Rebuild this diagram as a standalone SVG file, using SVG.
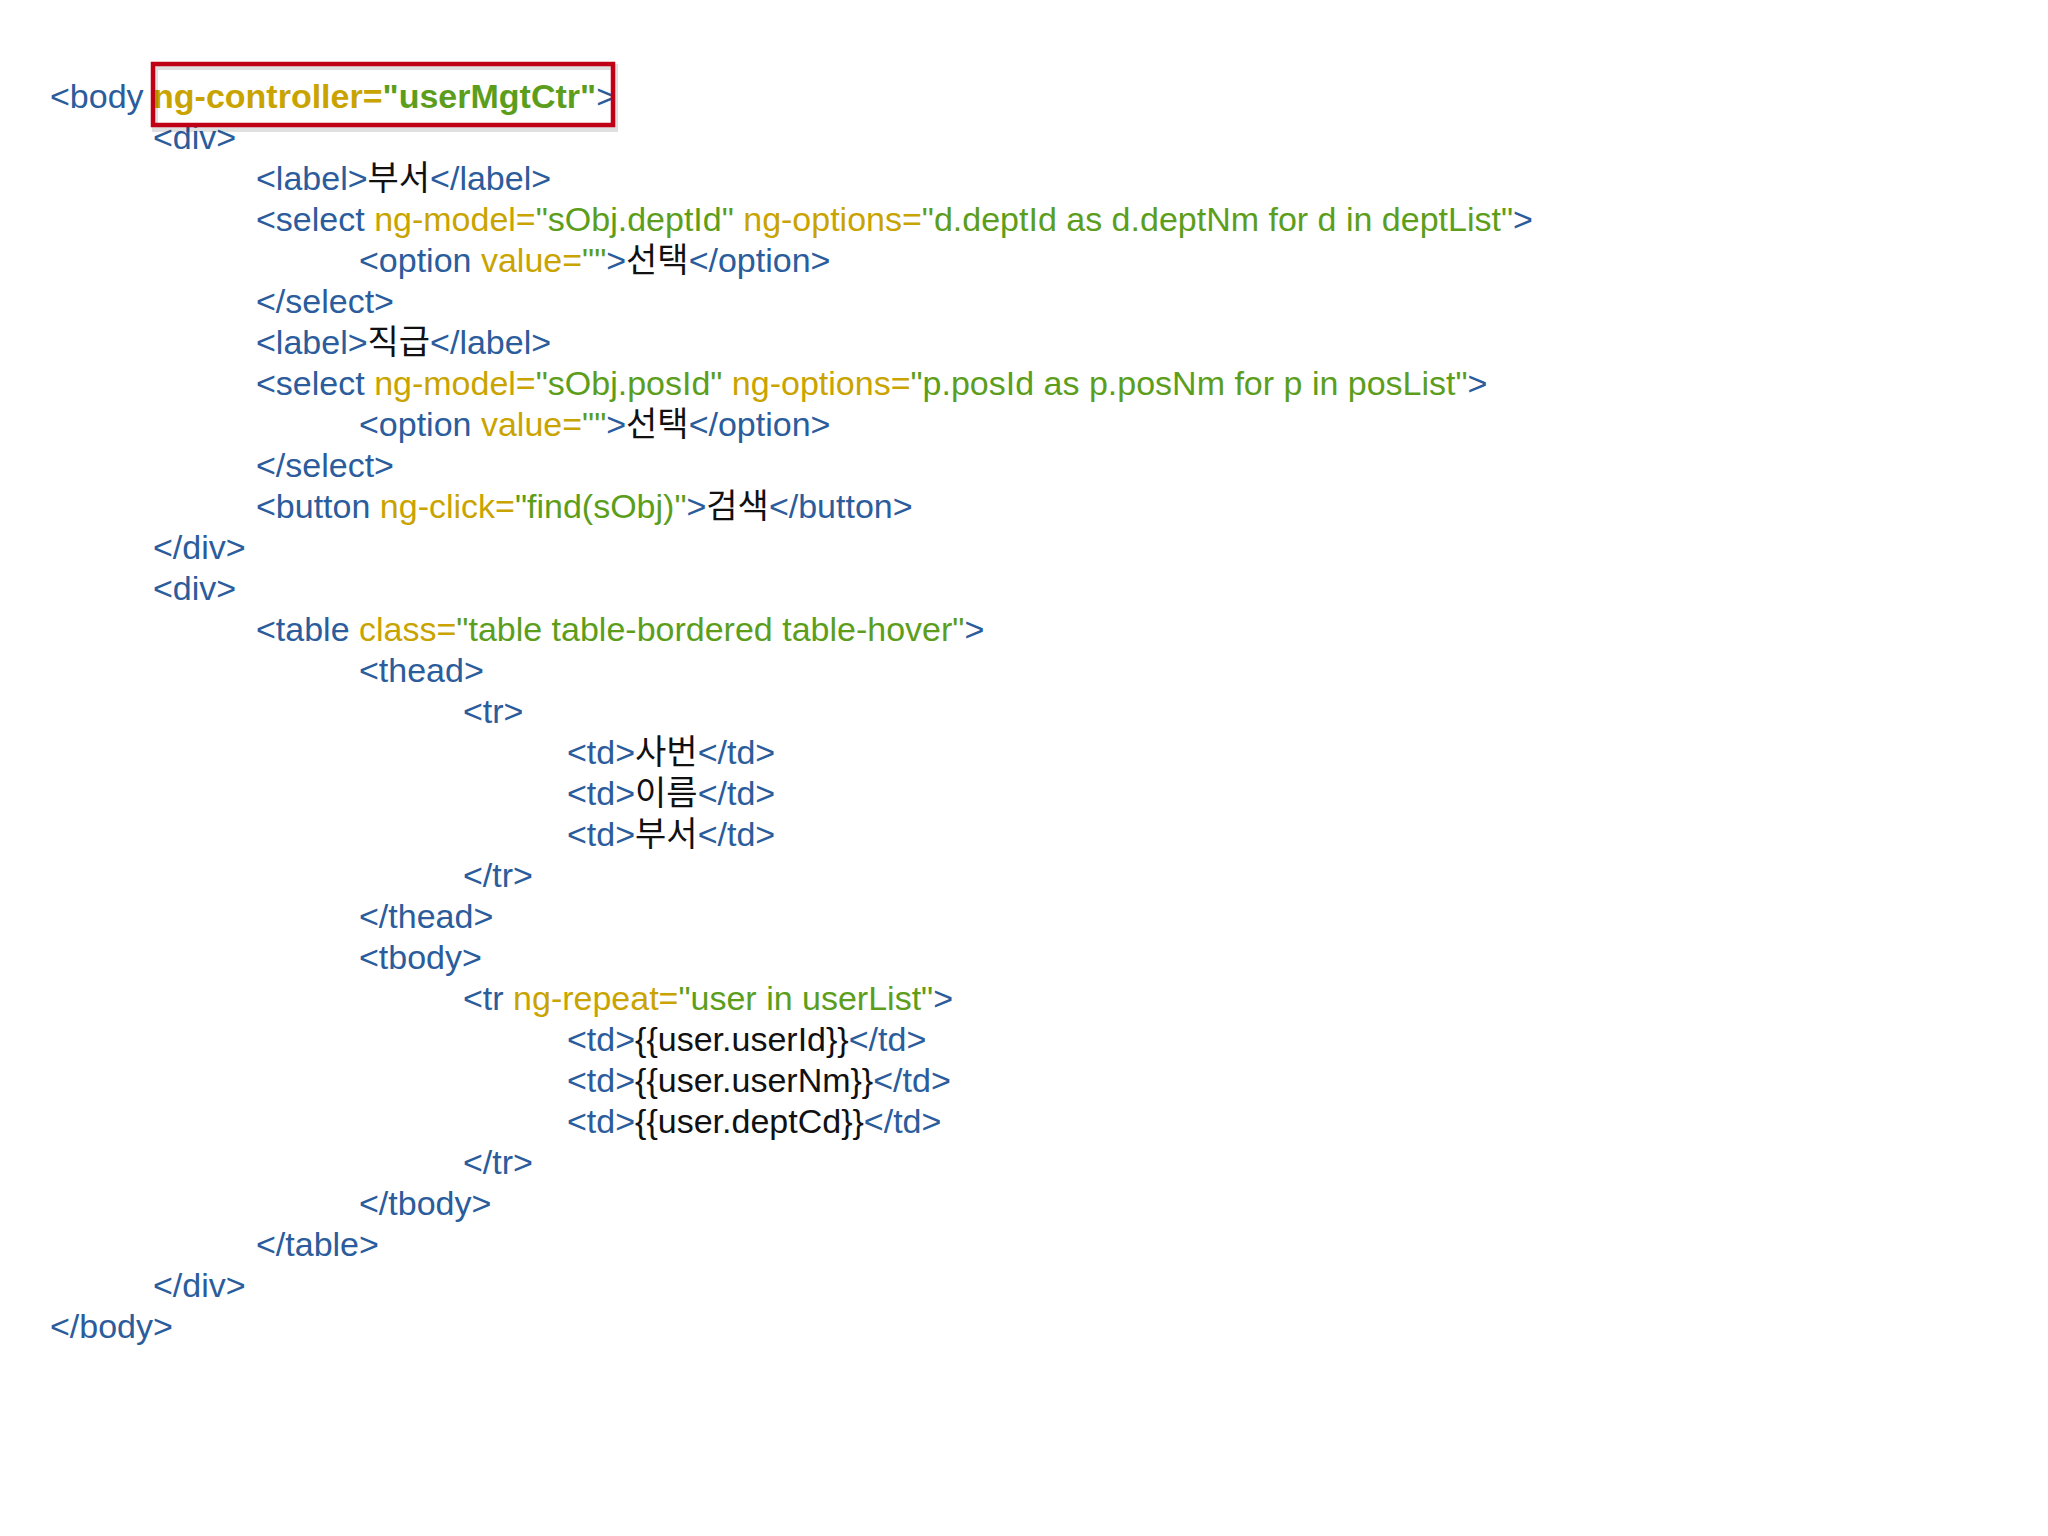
<svg xmlns="http://www.w3.org/2000/svg" width="2048" height="1536" viewBox="0 0 2048 1536">
<style>
text{font-family:"Liberation Sans",Arial,"Noto Sans CJK KR",sans-serif;font-size:34px;fill:#2B5C9B}
.a{fill:#C9A400}.v{fill:#5C9E1C}.k{fill:#111}
</style>
<rect width="2048" height="1536" fill="#fff"/>
<g id="code">
<text x="50" y="108">&lt;body <tspan class="a" font-weight="bold">ng-controller=</tspan><tspan class="v" font-weight="bold">"userMgtCtr"</tspan>&gt;</text>
<text x="153" y="149">&lt;div&gt;</text>
<text x="256" y="190">&lt;label&gt;<tspan class="k">부서</tspan>&lt;/label&gt;</text>
<text x="256" y="231">&lt;select <tspan class="a">ng-model=</tspan><tspan class="v">"sObj.deptId"</tspan> <tspan class="a">ng-options=</tspan><tspan class="v">"d.deptId as d.deptNm for d in deptList"</tspan>&gt;</text>
<text x="359" y="272">&lt;option <tspan class="a">value=</tspan><tspan class="v">""</tspan>&gt;<tspan class="k">선택</tspan>&lt;/option&gt;</text>
<text x="256" y="313">&lt;/select&gt;</text>
<text x="256" y="354">&lt;label&gt;<tspan class="k">직급</tspan>&lt;/label&gt;</text>
<text x="256" y="395">&lt;select <tspan class="a">ng-model=</tspan><tspan class="v">"sObj.posId"</tspan> <tspan class="a">ng-options=</tspan><tspan class="v">"p.posId as p.posNm for p in posList"</tspan>&gt;</text>
<text x="359" y="436">&lt;option <tspan class="a">value=</tspan><tspan class="v">""</tspan>&gt;<tspan class="k">선택</tspan>&lt;/option&gt;</text>
<text x="256" y="477">&lt;/select&gt;</text>
<text x="256" y="518">&lt;button <tspan class="a">ng-click=</tspan><tspan class="v">"find(sObj)"</tspan>&gt;<tspan class="k">검색</tspan>&lt;/button&gt;</text>
<text x="153" y="559">&lt;/div&gt;</text>
<text x="153" y="600">&lt;div&gt;</text>
<text x="256" y="641">&lt;table <tspan class="a">class=</tspan><tspan class="v">"table table-bordered table-hover"</tspan>&gt;</text>
<text x="359" y="682">&lt;thead&gt;</text>
<text x="463" y="723">&lt;tr&gt;</text>
<text x="567" y="764">&lt;td&gt;<tspan class="k">사번</tspan>&lt;/td&gt;</text>
<text x="567" y="805">&lt;td&gt;<tspan class="k">이름</tspan>&lt;/td&gt;</text>
<text x="567" y="846">&lt;td&gt;<tspan class="k">부서</tspan>&lt;/td&gt;</text>
<text x="463" y="887">&lt;/tr&gt;</text>
<text x="359" y="928">&lt;/thead&gt;</text>
<text x="359" y="969">&lt;tbody&gt;</text>
<text x="463" y="1010">&lt;tr <tspan class="a">ng-repeat=</tspan><tspan class="v">"user in userList"</tspan>&gt;</text>
<text x="567" y="1051">&lt;td&gt;<tspan class="k">{{user.userId}}</tspan>&lt;/td&gt;</text>
<text x="567" y="1092">&lt;td&gt;<tspan class="k">{{user.userNm}}</tspan>&lt;/td&gt;</text>
<text x="567" y="1133">&lt;td&gt;<tspan class="k">{{user.deptCd}}</tspan>&lt;/td&gt;</text>
<text x="463" y="1174">&lt;/tr&gt;</text>
<text x="359" y="1215">&lt;/tbody&gt;</text>
<text x="256" y="1256">&lt;/table&gt;</text>
<text x="153" y="1297">&lt;/div&gt;</text>
<text x="50" y="1338">&lt;/body&gt;</text>
</g>
<g id="highlight">
<rect x="155" y="67" width="460" height="62" fill="none" stroke="#000" stroke-opacity="0.12" stroke-width="6"/>
<rect x="153" y="64" width="460" height="61" fill="none" stroke="#C00014" stroke-width="4.5"/>
</g>
</svg>
